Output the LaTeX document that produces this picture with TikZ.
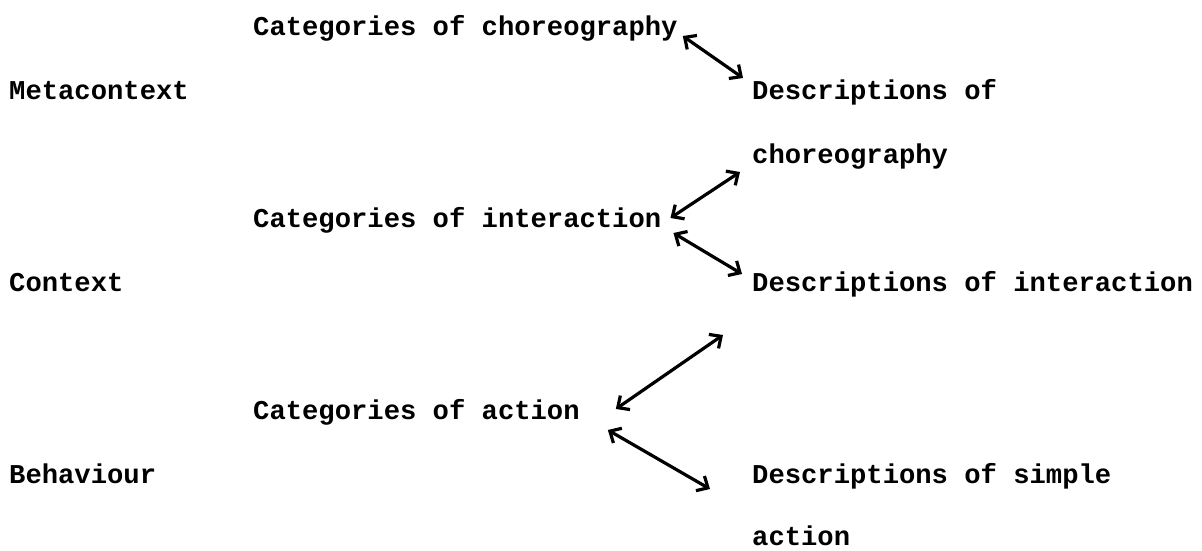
\documentclass[tikz,border=0pt]{standalone}
\usepackage{fontspec}
\setmonofont{Liberation Mono}
\usetikzlibrary{positioning}
\usetikzlibrary{arrows.meta}

\begin{document}
\begin{tikzpicture}[x=1pt,y=1pt,
         words/.style = {font=\ttfamily\bfseries\fontsize{27.2}{32}\selectfont,
         inner sep=0pt, anchor=base west},
         link/.style = {line width=3.2pt, line cap=round, line join=round,
         arrows={Straight Barb[length=9pt,width=17pt]-Straight Barb[length=9pt,width=17pt]}}
]
   \useasboundingbox (0,0) rectangle (1202,551);

   % levels
   \node[words] (meta) at (9,451) {Metacontext};
   \node[words] (ctx)  at (9,259) {Context};
   \node[words] (beh)  at (9,67)  {Behaviour};

   % categories
   \node[words] (cch) at (253,515) {Categories of choreography};
   \node[words] (cin) at (253,323) {Categories of interaction};
   \node[words] (cac) at (253,131) {Categories of action};

   % descriptions
   \node[words] (dch1) at (752,451) {Descriptions of};
   \node[words] (dch2) at (752,387) {choreography};
   \node[words] (din)  at (752,259) {Descriptions of interaction};
   \node[words] (dac1) at (752,67)  {Descriptions of simple};
   \node[words] (dac2) at (752,5)   {action};

   % arrow ends
   \coordinate[right=5pt of cch.base east] (a10);
   \coordinate[above left=22pt and 9pt of dch1.base west] (a11);
   \coordinate[below left=8pt and 12pt of dch2.base west] (a20);
   \coordinate[above right=10pt and 9pt of cin.base east] (a21);
   \coordinate[below right=5pt and 12pt of cin.base east] (a30);
   \coordinate[above left=18pt and 10pt of din.base west] (a31);
   \coordinate[below left=43pt and 29pt of din.base west] (a40);
   \coordinate[above right=11pt and 36pt of cac.base east] (a41);
   \coordinate[below right=10pt and 28pt of cac.base east] (a50);
   \coordinate[below left=5pt and 42pt of dac1.base west] (a51);

   \draw[link] (a10) -- (a11);
   \draw[link] (a20) -- (a21);
   \draw[link] (a30) -- (a31);
   \draw[link] (a40) -- (a41);
   \draw[link] (a50) -- (a51);
\end{tikzpicture}
\end{document}
